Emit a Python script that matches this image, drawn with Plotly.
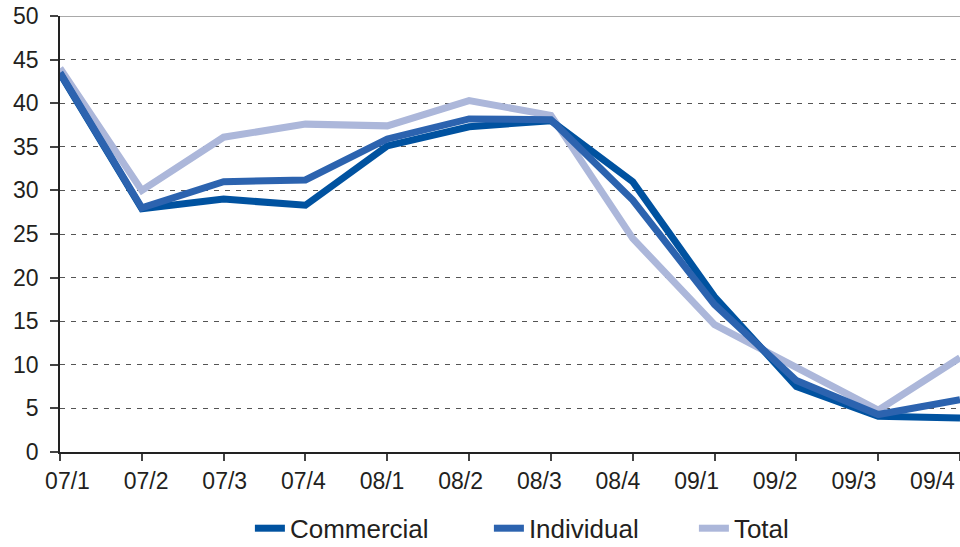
import plotly.graph_objects as go

quarters = ["07/1", "07/2", "07/3", "07/4", "08/1", "08/2", "08/3", "08/4",
            "09/1", "09/2", "09/3", "09/4"]
commercial = [43.4, 27.9, 29.0, 28.3, 35.1, 37.3, 38.0, 31.0, 17.8, 7.5, 4.1, 3.9]
individual = [43.5, 28.0, 31.0, 31.2, 35.9, 38.2, 38.1, 28.9, 16.9, 8.2, 4.3, 6.0]
total = [44.0, 30.0, 36.1, 37.6, 37.4, 40.3, 38.6, 24.5, 14.6, 9.7, 4.8, 10.8]

y_ticks = [0, 5, 10, 15, 20, 25, 30, 35, 40, 45, 50]

c_com = "#0052A0"
c_ind = "#2C63AF"
c_tot = "#ACB7DA"
txt = "#231F20"
font_family = "Liberation Sans, Arial, sans-serif"

fig = go.Figure()
fig.add_trace(go.Scatter(x=quarters, y=total, name="Total", mode="lines",
                         line=dict(color=c_tot, width=7), legendrank=3,
                         legendwidth=70))
fig.add_trace(go.Scatter(x=quarters, y=commercial, name="Commercial", mode="lines",
                         line=dict(color=c_com, width=7), legendrank=1,
                         legendwidth=194))
fig.add_trace(go.Scatter(x=quarters, y=individual, name="Individual", mode="lines",
                         line=dict(color=c_ind, width=7), legendrank=2,
                         legendwidth=160))
# invisible carrier for the label axis
fig.add_trace(go.Scatter(x=quarters, y=total, xaxis="x2", mode="none",
                         showlegend=False, hoverinfo="skip"))

fig.update_layout(
    width=960, height=547,
    margin=dict(l=60, r=0, t=16, b=95, autoexpand=False),
    paper_bgcolor="white", plot_bgcolor="white",
    font=dict(family=font_family, size=23, color=txt),
    showlegend=True,
    legend=dict(orientation="h", x=0.211, xanchor="left", y=-0.175, yanchor="middle",
                font=dict(size=26, color=txt), traceorder="normal",
                bgcolor="rgba(0,0,0,0)"),
    xaxis=dict(type="category", range=[0, 11], showgrid=False,
               showline=True, linecolor="#222222", linewidth=1.5,
               ticks="outside", ticklen=7, tickcolor="#444444", tickwidth=1.5,
               showticklabels=False, automargin=False,
               mirror=False, zeroline=False),
    xaxis2=dict(type="category", categoryarray=quarters, categoryorder="array",
                range=[-0.095, 11.35], overlaying="x", anchor="y", side="bottom",
                showgrid=False, showline=False, ticks="", zeroline=False,
                tickfont=dict(size=23, color=txt), ticklabelstandoff=13,
                automargin=False),
    yaxis=dict(range=[0, 50], tickvals=y_ticks, showgrid=True,
               gridcolor="#555555", griddash="5px,6px", gridwidth=1,
               showline=True, linecolor="#222222", linewidth=1.5,
               ticks="outside", ticklen=8, tickcolor="#444444", tickwidth=1.5,
               tickfont=dict(size=23, color=txt), ticklabelstandoff=7,
               zeroline=False, automargin=False),
    shapes=[dict(type="line", xref="paper", yref="y", x0=0, x1=1, y0=50, y1=50,
                 line=dict(color="#555555", width=1.2), layer="below")],
)

fig.write_html("out.html", config={"displayModeBar": False},
               post_script="document.body.style.margin='0px';")
